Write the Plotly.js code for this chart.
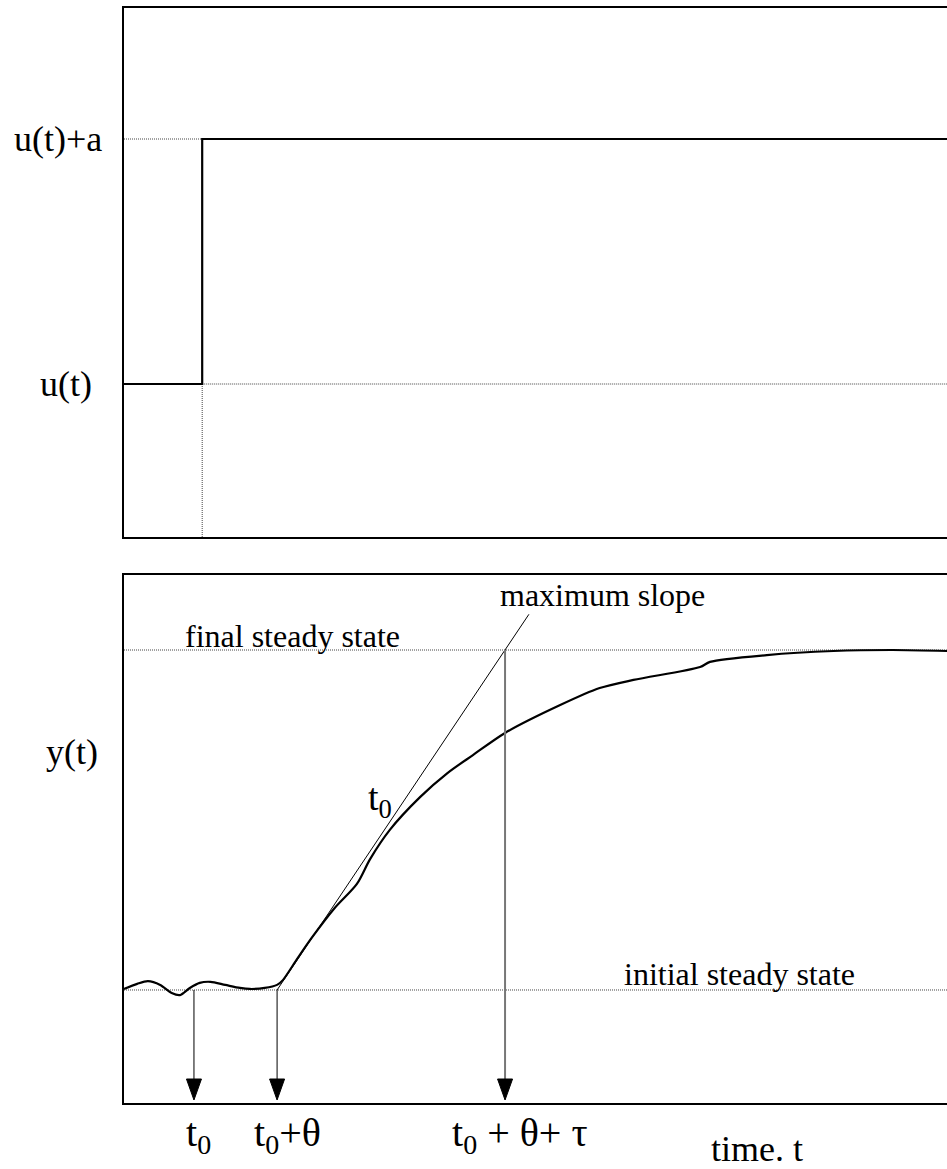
<!DOCTYPE html>
<html>
<head>
<meta charset="utf-8">
<script src="https://cdn.plot.ly/plotly-3.0.1.min.js"></script>
<style>html,body{margin:0;padding:0;background:#fff;}</style>
</head>
<body>
<div id="chart" style="width:947px;height:1169px;"></div>
<script>
// ---- data ----
// input step (top panel)
const inputTime = [0, 9.5, 9.5, 100];
const inputValue = [1, 1, 2, 2];
const stepTime = 9.5;
const uLevel = 1;
const uPlusALevel = 2;
const inputTickLabels = ['u(t)', 'u(t)+a'];

// process response (bottom panel)
const responseTime = [0, 1.6, 2.9, 4.4, 5.8, 6.8, 8.0, 9.2, 10.5, 12.3, 14.1, 15.3, 17.1, 18.6, 19.3,
  21.0, 22.8, 25.6, 28.3, 29.9, 32.3, 36.0, 39.3, 42.4, 46.3, 53.0, 57.8, 61.9, 70.0, 71.2, 78.1, 86.2, 93.4, 100];
const responseValue = [0.003, 0.018, 0.026, 0.015, -0.009, -0.015, 0.006, 0.021, 0.024, 0.015, 0.006, 0.003, 0.006, 0.015, 0.029,
  0.09, 0.153, 0.241, 0.312, 0.385, 0.471, 0.568, 0.638, 0.691, 0.756, 0.838, 0.888, 0.912, 0.950, 0.965, 0.985, 0.997, 1.0, 0.997];
const initialLevel = 0;
const finalLevel = 1;
const markTimes = [8.5, 18.6, 46.3];          // t0, t0+θ, t0+θ+τ
const markLabels = ['t<sub>0</sub>', 't<sub>0</sub>+θ', 't<sub>0</sub> + θ+ τ'];
const tangentTime = [18.6, 49.2];
const tangentValue = [0, 1.105];

// ---- layout helpers ----
const FIG_W = 947, FIG_H = 1169;
const SERIF = 'Liberation Serif, Times New Roman, serif';
const xDom = [124 / FIG_W, 1];
const topDom = [1 - 537 / FIG_H, 1 - 8 / FIG_H];
const botDom = [1 - 1103 / FIG_H, 1 - 575 / FIG_H];
const topRange = [0.3755, 2.5347];
const botRange = [-0.3324, 1.2206];
const xRange = [0, 100];

const tPerPx = (xRange[1] - xRange[0]) / (FIG_W - 124);
const yPerPxBot = (botRange[1] - botRange[0]) / (1103 - 575);
const arrowTip = botRange[0] + 3 * yPerPxBot;
const headLen = 21 * yPerPxBot;
const headHalf = 7.5 * tPerPx;

const DOT = {color: '#444', width: 1, dash: '1px,1px'};
const traces = [];
// top panel dotted guides
traces.push({x: [xRange[0], stepTime], y: [uPlusALevel, uPlusALevel], xaxis: 'x', yaxis: 'y', mode: 'lines',
  line: DOT, hoverinfo: 'skip'});
traces.push({x: [stepTime, xRange[1]], y: [uLevel, uLevel], xaxis: 'x', yaxis: 'y', mode: 'lines',
  line: DOT, hoverinfo: 'skip'});
traces.push({x: [stepTime, stepTime], y: [topRange[0], uLevel], xaxis: 'x', yaxis: 'y', mode: 'lines',
  line: DOT, hoverinfo: 'skip'});
// top panel step
traces.push({x: inputTime, y: inputValue, xaxis: 'x', yaxis: 'y', mode: 'lines',
  line: {color: '#000', width: 2.2}, hoverinfo: 'skip'});

// bottom panel steady-state guides
[finalLevel, initialLevel].forEach(v => traces.push({x: xRange, y: [v, v], xaxis: 'x2', yaxis: 'y2', mode: 'lines',
  line: DOT, hoverinfo: 'skip'}));
// tangent
traces.push({x: tangentTime, y: tangentValue, xaxis: 'x2', yaxis: 'y2', mode: 'lines',
  line: {color: '#000', width: 1}, hoverinfo: 'skip'});
// response
traces.push({x: responseTime, y: responseValue, xaxis: 'x2', yaxis: 'y2', mode: 'lines',
  line: {color: '#000', width: 2.2, shape: 'spline', smoothing: 0.8}, hoverinfo: 'skip'});
// arrows
markTimes.forEach((t, i) => {
  const startY = i === 2 ? finalLevel : initialLevel;
  traces.push({x: [t, t], y: [startY, arrowTip + headLen], xaxis: 'x2', yaxis: 'y2', mode: 'lines',
    line: {color: i === 2 ? '#777' : '#000', width: i === 2 ? 2 : 1}, hoverinfo: 'skip'});
  traces.push({x: [t - headHalf, t + headHalf, t, t - headHalf],
    y: [arrowTip + headLen, arrowTip + headLen, arrowTip, arrowTip + headLen],
    xaxis: 'x2', yaxis: 'y2', mode: 'lines', fill: 'toself', fillcolor: '#000',
    line: {color: '#000', width: 1}, hoverinfo: 'skip'});
});

const axBase = {showgrid: false, zeroline: false, showticklabels: false, ticks: '',
  showline: true, linecolor: '#000', linewidth: 2.2, fixedrange: true};

const txt = (text, x, y, xref, yref, size, xanchor) => ({text, x, y, xref, yref, showarrow: false,
  xanchor: xanchor || 'center', yanchor: 'middle', font: {family: SERIF, size: size, color: '#000'}});

const tickY = 1 - 1135 / FIG_H;
const annotations = [
  txt(inputTickLabels[1], 12 / FIG_W, uPlusALevel, 'paper', 'y', 36, 'left'),
  txt(inputTickLabels[0], 38 / FIG_W, uLevel, 'paper', 'y', 36, 'left'),
  txt('y(t)', 72 / FIG_W, 0.70, 'paper', 'y2', 36),
  txt('final steady state', 7.2, 1.041, 'x2', 'y2', 32, 'left'),
  txt('maximum slope', 45.5, 1.162, 'x2', 'y2', 32, 'left'),
  txt('initial steady state', 60.5, 0.047, 'x2', 'y2', 32, 'left'),
  txt('t<sub>0</sub>', 31.1, 0.56, 'x2', 'y2', 38),
  txt(markLabels[0], 9.1, tickY, 'x2', 'paper', 40),
  txt(markLabels[1], 19.9, tickY, 'x2', 'paper', 40),
  txt(markLabels[2], 39.6, tickY, 'x2', 'paper', 40, 'left'),
  txt('time. t', 757 / FIG_W, 1 - 1149 / FIG_H, 'paper', 'paper', 36)
];

const layout = {
  width: FIG_W, height: FIG_H,
  margin: {l: 0, r: 0, t: 0, b: 0},
  paper_bgcolor: '#fff', plot_bgcolor: '#fff',
  showlegend: false,
  xaxis: Object.assign({}, axBase, {domain: xDom, range: xRange, anchor: 'y', mirror: true}),
  yaxis: Object.assign({}, axBase, {domain: topDom, range: topRange, anchor: 'x'}),
  xaxis2: Object.assign({}, axBase, {domain: xDom, range: xRange, anchor: 'y2', mirror: true}),
  yaxis2: Object.assign({}, axBase, {domain: botDom, range: botRange, anchor: 'x2'}),
  annotations: annotations
};

Plotly.newPlot('chart', traces, layout, {staticPlot: true, displayModeBar: false});
</script>
</body>
</html>
